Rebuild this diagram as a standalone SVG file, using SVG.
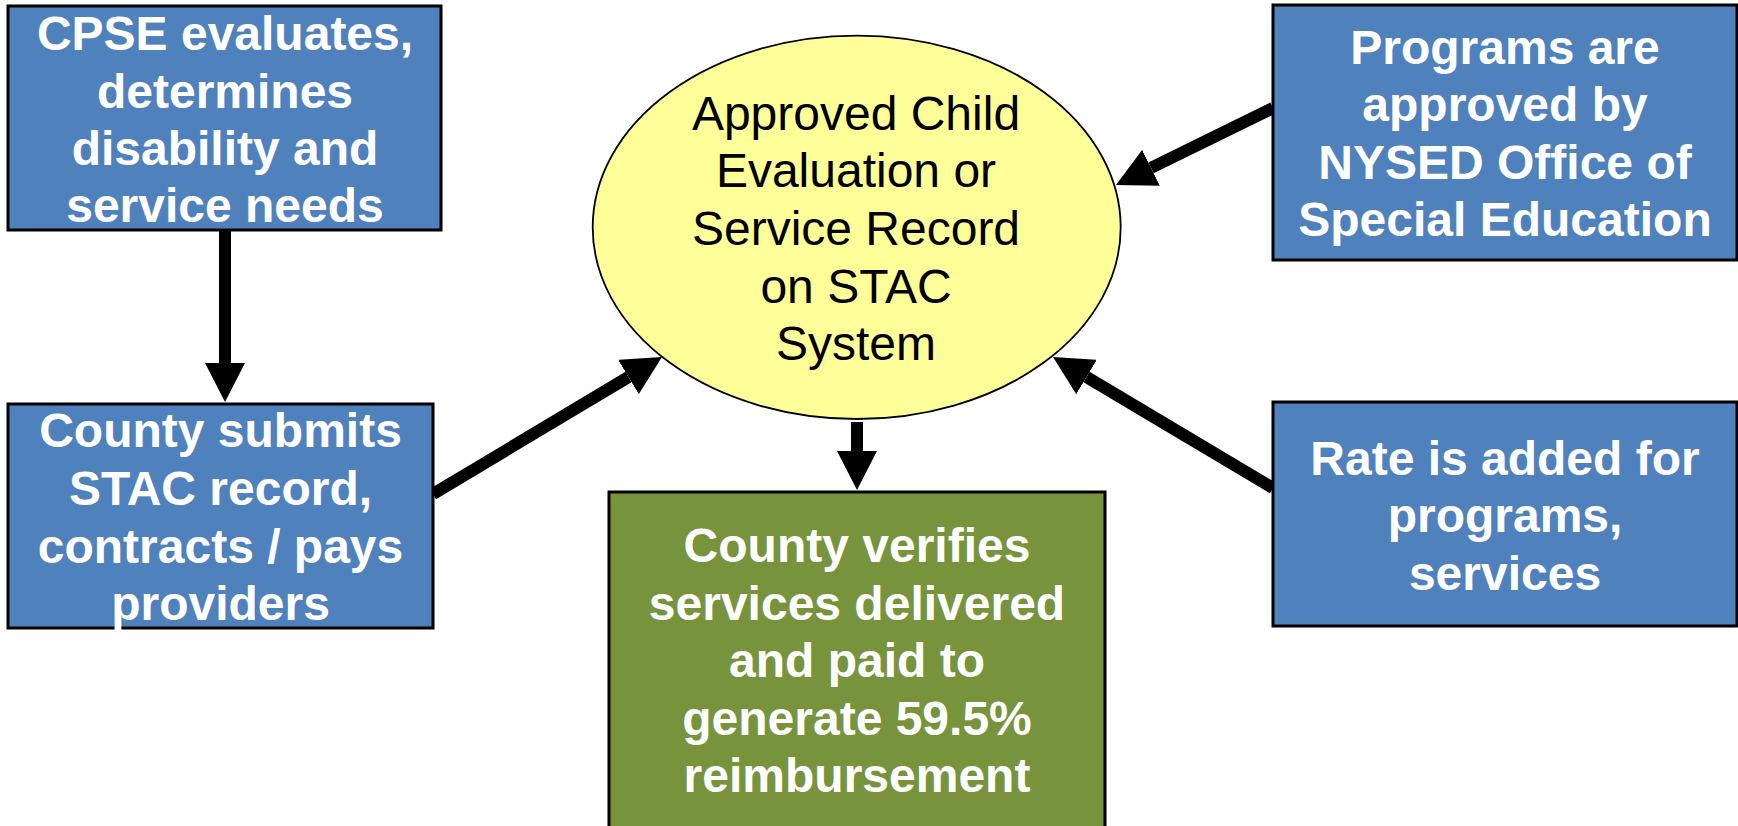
<svg xmlns="http://www.w3.org/2000/svg" width="1738" height="826" viewBox="0 0 1738 826">
<defs>
<style>
.box{fill:#4F81BD;stroke:#000;stroke-width:3}
.green{fill:#77933C;stroke:#000;stroke-width:3}
.ell{fill:#FFFF99;stroke:#000;stroke-width:1.8}
.wt{font-family:"Liberation Sans",Arial,sans-serif;font-size:48px;font-weight:bold;fill:#fff;text-anchor:middle}
.bt{font-family:"Liberation Sans",Arial,sans-serif;font-size:48px;fill:#000;text-anchor:middle}
.conn{stroke:#000;stroke-width:12;fill:none;marker-end:url(#ah)}
</style>
<marker id="ah" markerUnits="userSpaceOnUse" viewBox="0 0 39 40" refX="0" refY="20" markerWidth="39" markerHeight="40" orient="auto">
<path d="M0,0 L39,20 L0,40 Z" fill="#000"/>
</marker>
</defs>
<rect width="1738" height="826" fill="#fff"/>
<g id="connectors">
<line class="conn" x1="225" y1="230" x2="225" y2="363"/>
<line class="conn" x1="433" y1="494" x2="628.5" y2="377"/>
<line class="conn" x1="1273" y1="108" x2="1151" y2="167.8"/>
<line class="conn" x1="1273" y1="488" x2="1086.5" y2="377"/>
<line class="conn" x1="857" y1="422" x2="857" y2="451"/>
</g>
<g id="cpse">
<rect class="box" x="8" y="6" width="433" height="224"/>
<text class="wt" x="225" y="50">CPSE evaluates,</text>
<text class="wt" x="225" y="107.5">determines</text>
<text class="wt" x="225" y="165">disability and</text>
<text class="wt" x="225" y="222">service needs</text>
</g>
<g id="county">
<rect class="box" x="8" y="404" width="425" height="224"/>
<text class="wt" x="220.5" y="447">County submits</text>
<text class="wt" x="220.5" y="505">STAC record,</text>
<text class="wt" x="220.5" y="563">contracts / pays</text>
<text class="wt" x="220.5" y="620">providers</text>
</g>
<g id="stac">
<ellipse class="ell" cx="856.7" cy="227.3" rx="264" ry="191.7"/>
<text class="bt" x="856" y="130">Approved Child</text>
<text class="bt" x="856" y="187">Evaluation or</text>
<text class="bt" x="856" y="245">Service Record</text>
<text class="bt" x="856" y="302.5">on STAC</text>
<text class="bt" x="856" y="360">System</text>
</g>
<g id="programs">
<rect class="box" x="1273" y="5" width="464" height="255"/>
<text class="wt" x="1505" y="63.5">Programs are</text>
<text class="wt" x="1505" y="121">approved by</text>
<text class="wt" x="1505" y="178.5">NYSED Office of</text>
<text class="wt" x="1505" y="236">Special Education</text>
</g>
<g id="rate">
<rect class="box" x="1273" y="402" width="464" height="224"/>
<text class="wt" x="1505" y="475">Rate is added for</text>
<text class="wt" x="1505" y="532">programs,</text>
<text class="wt" x="1505" y="589.5">services</text>
</g>
<g id="verify">
<rect class="green" x="609" y="492" width="496" height="345"/>
<text class="wt" x="857" y="562">County verifies</text>
<text class="wt" x="857" y="619.5">services delivered</text>
<text class="wt" x="857" y="677">and paid to</text>
<text class="wt" x="857" y="734.5">generate 59.5%</text>
<text class="wt" x="857" y="792">reimbursement</text>
</g>
</svg>
